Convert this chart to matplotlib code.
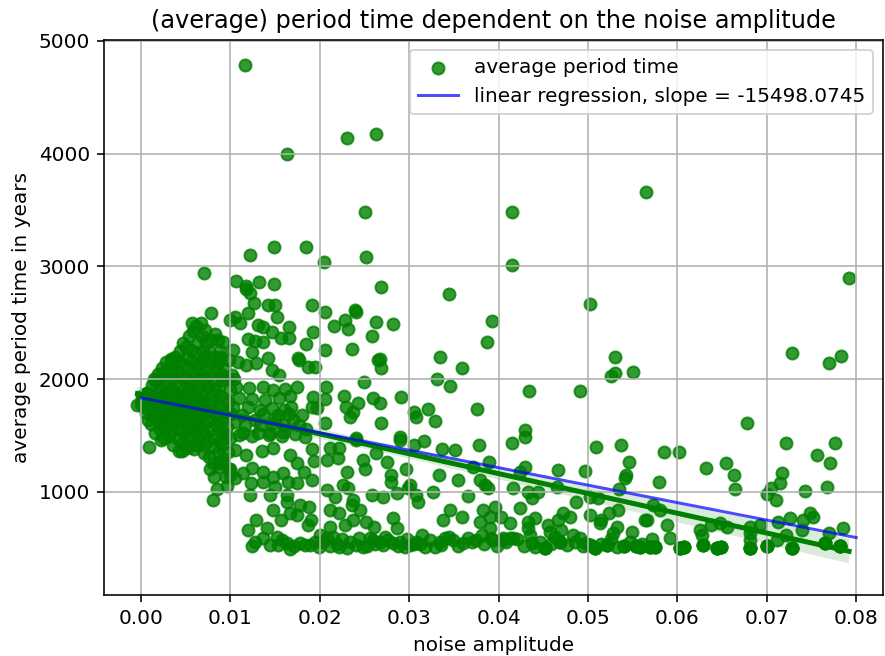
import numpy as np
import matplotlib
matplotlib.use("Agg")
import matplotlib.pyplot as plt
import seaborn as sns

# (noise amplitude, average period time in years), grouped by amplitude range
pts_low = [
    (0.0000, 1780), (0.0001, 1820), (0.0002, 1760), (0.0001, 1850), (0.0003, 1800), (-0.0004, 1772),
    (0.0006, 1700), (0.0005, 1750), (0.0007, 1880), (0.0007, 1875), (0.0008, 1640), (0.0006, 1810),
    (0.0009, 1402), (0.0011, 1600), (0.0012, 1690), (0.0010, 1760), (0.0013, 1840), (0.0012, 1950), (0.0014, 2000),
    (0.0016, 1520), (0.0017, 1650), (0.0015, 1730), (0.0018, 1870), (0.0016, 1980), (0.0019, 2050),
    (0.0022, 1461), (0.0021, 1560), (0.0020, 1620), (0.0023, 1710), (0.0022, 1800), (0.0021, 1900),
    (0.0024, 2030), (0.0024, 2053), (0.0023, 2100),
    (0.0026, 1480), (0.0027, 1580), (0.0025, 1680), (0.0028, 1770), (0.0026, 1850), (0.0027, 1950),
    (0.0029, 2060), (0.0028, 2150),
    (0.0031, 1500), (0.0030, 1600), (0.0032, 1700), (0.0031, 1790), (0.0033, 1880), (0.0030, 1980),
    (0.0032, 2080), (0.0034, 2180),
    (0.0036, 1420), (0.0035, 1540), (0.0037, 1640), (0.0036, 1730), (0.0038, 1820), (0.0035, 1910),
    (0.0037, 2010), (0.0036, 2120), (0.0035, 2170), (0.0038, 2200),
    (0.0043, 1367), (0.0041, 1470), (0.0040, 1570), (0.0042, 1670), (0.0044, 1760), (0.0041, 1860),
    (0.0043, 1950), (0.0040, 2060), (0.0042, 2160), (0.0044, 2250),
    (0.0046, 1360), (0.0047, 1450), (0.0045, 1550), (0.0048, 1650), (0.0046, 1740), (0.0047, 1840),
    (0.0049, 1930), (0.0046, 2030), (0.0048, 2130), (0.0050, 2289), (0.0047, 2320),
    (0.0052, 1390), (0.0051, 1500), (0.0053, 1600), (0.0050, 1700), (0.0052, 1800), (0.0054, 1900),
    (0.0051, 2000), (0.0053, 2100), (0.0052, 2200), (0.0054, 2380),
    (0.0057, 2496), (0.0059, 1379), (0.0056, 1470), (0.0058, 1560), (0.0055, 1660), (0.0057, 1760),
    (0.0059, 1860), (0.0056, 1960), (0.0058, 2060), (0.0057, 2160), (0.0056, 2260), (0.0058, 2430),
    (0.0062, 1420), (0.0061, 1530), (0.0063, 1630), (0.0060, 1730), (0.0062, 1830), (0.0064, 1930),
    (0.0061, 2030), (0.0063, 2130), (0.0062, 2230), (0.0064, 2330), (0.0061, 2470),
    (0.0066, 1450), (0.0068, 1550), (0.0065, 1650), (0.0067, 1750), (0.0069, 1850), (0.0066, 1950),
    (0.0068, 2050), (0.0067, 2150), (0.0069, 2250), (0.0067, 2496), (0.0068, 2380),
    (0.0070, 1343), (0.0071, 1420), (0.0072, 1500), (0.0070, 1600), (0.0073, 1700), (0.0071, 1800),
    (0.0072, 1900), (0.0070, 2000), (0.0073, 2100), (0.0071, 2200), (0.0072, 2437), (0.0070, 2940),
    (0.0073, 2320),
    (0.0076, 1313), (0.0077, 1200), (0.0075, 1450), (0.0078, 1550), (0.0076, 1650), (0.0077, 1750),
    (0.0079, 1850), (0.0075, 1950), (0.0078, 2050), (0.0077, 2150), (0.0076, 2250), (0.0078, 2350),
    (0.0078, 2585),
    (0.0081, 929), (0.0085, 1027), (0.0082, 1130), (0.0080, 1260), (0.0083, 1400), (0.0081, 1500),
    (0.0084, 1600), (0.0082, 1700), (0.0080, 1800), (0.0083, 1900), (0.0081, 2000), (0.0084, 2100),
    (0.0082, 2200), (0.0083, 2400),
    (0.0087, 1225), (0.0086, 1350), (0.0088, 1450), (0.0089, 1550), (0.0086, 1650), (0.0087, 1750),
    (0.0088, 1850), (0.0087, 1934), (0.0089, 2050), (0.0086, 2150), (0.0088, 2250), (0.0086, 2350),
    (0.0095, 1136), (0.0092, 1300), (0.0091, 1420), (0.0093, 1520), (0.0090, 1620), (0.0092, 1720),
    (0.0094, 1820), (0.0091, 1993), (0.0093, 2100), (0.0090, 2200), (0.0092, 2333), (0.0088, 2170),
    (0.0096, 1050), (0.0098, 1200), (0.0097, 1350), (0.0099, 1480), (0.0096, 1580), (0.0098, 1700),
    (0.0097, 1800), (0.0099, 1900), (0.0096, 2000), (0.0098, 2170), (0.0100, 2525), (0.0094, 1490),
    (0.0092, 1256), (0.0100, 1200), (0.0088, 1256),
]

# overlapping runs inside the dense cluster
pts_core = [
    (0.0010, 1800), (0.0015, 1780), (0.0018, 1820), (0.0020, 1760), (0.0025, 1800), (0.0028, 1720),
    (0.0030, 1850), (0.0033, 1760), (0.0035, 1800), (0.0038, 1700), (0.0040, 1790), (0.0042, 1830),
    (0.0045, 1720), (0.0048, 1780), (0.0050, 1850), (0.0053, 1740), (0.0055, 1800), (0.0058, 1700),
    (0.0060, 1780), (0.0063, 1720), (0.0065, 1800), (0.0068, 1700), (0.0004, 1790), (0.0008, 1760),
    (0.0013, 1700), (0.0023, 1650), (0.0034, 1600), (0.0044, 1620), (0.0054, 1560), (0.0064, 1580),
]

pts_mid = [
    (0.0116, 4787), (0.0163, 3998), (0.0230, 4137), (0.0263, 4175), (0.0250, 3483), (0.0122, 3102),
    (0.0149, 3176), (0.0185, 3176), (0.0205, 3037), (0.0252, 3087),
    (0.0106, 2874), (0.0118, 2827), (0.0132, 2860), (0.0149, 2842), (0.0268, 2821),
    (0.0191, 2659), (0.0206, 2594), (0.0239, 2614), (0.0240, 2600), (0.0228, 2525), (0.0216, 2475),
    (0.0231, 2445), (0.0263, 2510), (0.0282, 2490), (0.0258, 2386), (0.0236, 2268), (0.0206, 2259),
    (0.0192, 2422), (0.0185, 2310), (0.0176, 2186), (0.0177, 2170), (0.0195, 2112), (0.0187, 2106),
    (0.0265, 2172), (0.0267, 2180), (0.0268, 2097), (0.0249, 1978), (0.0291, 1839), (0.0227, 1851),
    (0.0207, 1934), (0.0260, 1831), (0.0267, 1787), (0.0243, 1792), (0.0229, 1756), (0.0237, 1712),
    (0.0234, 1668), (0.0206, 1822), (0.0192, 1845), (0.0191, 1756), (0.0197, 1740), (0.0206, 1609),
    (0.0268, 1609), (0.0305, 1712), (0.0290, 1490), (0.0241, 1476),
    (0.0117, 2800), (0.0122, 2760), (0.0126, 2673), (0.0142, 2659), (0.0150, 2659), (0.0120, 2585),
    (0.0105, 2550), (0.0111, 2502), (0.0152, 2555), (0.0131, 2481), (0.0137, 2466), (0.0147, 2422),
    (0.0165, 2466), (0.0157, 2363), (0.0165, 2363), (0.0120, 2354), (0.0128, 2340), (0.0136, 2330),
    (0.0103, 2259), (0.0124, 2244), (0.0142, 2186), (0.0109, 2156), (0.0118, 2126), (0.0129, 2141),
    (0.0146, 2082), (0.0154, 2038), (0.0102, 2040), (0.0104, 2000),
    (0.0106, 1930), (0.0121, 1920), (0.0136, 1930), (0.0148, 1900), (0.0161, 1910), (0.0174, 1930),
    (0.0110, 1830), (0.0124, 1820), (0.0139, 1815), (0.0154, 1830), (0.0167, 1850),
    (0.0103, 1750), (0.0120, 1750), (0.0133, 1730), (0.0146, 1740), (0.0160, 1730), (0.0168, 1750),
    (0.0101, 1690), (0.0113, 1680), (0.0136, 1690), (0.0153, 1680), (0.0166, 1690),
    (0.0116, 1595), (0.0133, 1590), (0.0146, 1600), (0.0160, 1595), (0.0177, 1595),
    (0.0110, 1505), (0.0124, 1500), (0.0143, 1505), (0.0158, 1500), (0.0172, 1515), (0.0184, 1490),
    (0.0105, 1620), (0.0127, 1640), (0.0150, 1650), (0.0185, 1560), (0.0170, 1640), (0.0180, 1680),
    (0.0114, 1525), (0.0131, 1525), (0.0144, 1520), (0.0159, 1530),
    (0.0105, 1372), (0.0118, 1328), (0.0135, 1359), (0.0148, 1390), (0.0167, 1328), (0.0174, 1256),
    (0.0191, 1381), (0.0193, 1278),
    (0.0100, 1150), (0.0105, 1125), (0.0114, 1168), (0.0124, 1212), (0.0137, 1180), (0.0148, 1136),
    (0.0159, 1168), (0.0182, 1180), (0.0191, 1106),
    (0.0123, 1080), (0.0136, 1091), (0.0150, 1047), (0.0164, 1091), (0.0174, 1080),
    (0.0122, 973), (0.0144, 973), (0.0163, 973),
    (0.0163, 914), (0.0178, 885), (0.0188, 870), (0.0167, 811),
    (0.0148, 840), (0.0157, 751), (0.0174, 796),
    (0.0120, 663), (0.0129, 751), (0.0141, 678), (0.0152, 604), (0.0163, 545), (0.0124, 521),
    (0.0144, 530), (0.0153, 530), (0.0167, 492), (0.0178, 550), (0.0183, 530), (0.0189, 530),
    (0.0187, 707), (0.0190, 751),
    (0.0211, 1388), (0.0221, 1388), (0.0241, 1461), (0.0248, 1284), (0.0263, 1343), (0.0275, 1269),
    (0.0290, 1461), (0.0305, 1417), (0.0208, 1284), (0.0220, 1300),
    (0.0226, 1062), (0.0232, 1033), (0.0208, 1018), (0.0217, 958), (0.0237, 929), (0.0258, 973),
    (0.0271, 958), (0.0280, 1091), (0.0286, 988), (0.0299, 1033),
    (0.0211, 840), (0.0222, 811), (0.0236, 885), (0.0245, 840), (0.0237, 751), (0.0252, 737),
    (0.0261, 692), (0.0228, 707), (0.0211, 692), (0.0282, 767), (0.0286, 678), (0.0273, 604),
    (0.0204, 560), (0.0211, 520), (0.0219, 540), (0.0230, 500), (0.0241, 530), (0.0248, 510),
    (0.0260, 570), (0.0271, 525), (0.0282, 550), (0.0295, 510), (0.0305, 540),
    (0.0250, 1200), (0.0230, 1180), (0.0280, 1150), (0.0296, 1200),
    (0.0200, 620), (0.0215, 600), (0.0225, 580), (0.0256, 590), (0.0267, 560), (0.0290, 560),
]

pts_high = [
    (0.0565, 3664), (0.0415, 3486), (0.0415, 3013), (0.0345, 2756), (0.0502, 2667), (0.0393, 2517),
    (0.0387, 2333), (0.0334, 2195), (0.0359, 2097), (0.0331, 2003), (0.0346, 1940), (0.0530, 2195),
    (0.0530, 2058), (0.0526, 2028), (0.0550, 2067), (0.0434, 1899), (0.0491, 1899),
    (0.0308, 1668), (0.0321, 1733), (0.0329, 1632), (0.0376, 1733), (0.0430, 1550),
    (0.0316, 1455), (0.0337, 1379), (0.0351, 1373), (0.0378, 1417), (0.0415, 1432), (0.0430, 1490),
    (0.0509, 1402), (0.0537, 1417), (0.0546, 1269), (0.0389, 1269), (0.0371, 1225), (0.0430, 1225),
    (0.0424, 1180), (0.0466, 1195), (0.0497, 1187), (0.0543, 1151), (0.0541, 1122), (0.0333, 1151),
    (0.0355, 1106), (0.0379, 1106), (0.0385, 1062), (0.0388, 1033), (0.0301, 1062), (0.0416, 1033),
    (0.0465, 1047), (0.0535, 1024), (0.0308, 973), (0.0327, 1003), (0.0310, 914), (0.0366, 964),
    (0.0433, 1003), (0.0437, 944), (0.0444, 1003), (0.0487, 914), (0.0502, 958), (0.0511, 944),
    (0.0346, 840), (0.0359, 781), (0.0383, 840), (0.0390, 781), (0.0396, 870), (0.0424, 855),
    (0.0338, 751), (0.0379, 737), (0.0403, 781), (0.0413, 722), (0.0433, 737), (0.0441, 767),
    (0.0455, 707), (0.0467, 751), (0.0472, 811), (0.0480, 781), (0.0502, 796), (0.0515, 751),
    (0.0513, 722), (0.0524, 811), (0.0534, 840), (0.0532, 692), (0.0528, 634), (0.0549, 648),
    (0.0564, 751), (0.0390, 678), (0.0392, 589), (0.0405, 589), (0.0416, 589), (0.0433, 678),
    (0.0435, 619), (0.0457, 648), (0.0470, 663), (0.0483, 619), (0.0491, 589),
    (0.0301, 530), (0.0314, 619), (0.0329, 515), (0.0340, 589), (0.0349, 574), (0.0360, 545),
    (0.0375, 574), (0.0381, 619), (0.0394, 574), (0.0441, 515), (0.0452, 500), (0.0469, 559),
    (0.0502, 530), (0.0508, 500), (0.0521, 530), (0.0540, 521), (0.0554, 521), (0.0569, 515),
    (0.0308, 559), (0.0323, 574), (0.0334, 559), (0.0370, 559), (0.0405, 574), (0.0413, 589),
    (0.0437, 545), (0.0497, 545),
    (0.0792, 2895), (0.0728, 2230), (0.0770, 2141), (0.0783, 2206), (0.0678, 1609), (0.0721, 1438),
    (0.0776, 1438), (0.0585, 1352), (0.0602, 1352), (0.0756, 1328), (0.0771, 1260), (0.0654, 1260),
    (0.0632, 1210), (0.0663, 1151), (0.0665, 1024), (0.0579, 1086), (0.0717, 1166), (0.0715, 1083),
    (0.0705, 1033), (0.0700, 982), (0.0710, 929), (0.0743, 1009), (0.0767, 1047), (0.0573, 885),
    (0.0580, 840), (0.0566, 751), (0.0588, 707), (0.0592, 589), (0.0558, 515), (0.0575, 509),
    (0.0603, 500), (0.0607, 515), (0.0625, 663), (0.0627, 619), (0.0629, 530), (0.0638, 707),
    (0.0648, 722), (0.0655, 692), (0.0644, 500), (0.0649, 509), (0.0681, 692), (0.0681, 634),
    (0.0681, 574), (0.0681, 500), (0.0692, 707), (0.0700, 521), (0.0711, 574), (0.0712, 737),
    (0.0722, 619), (0.0726, 767), (0.0728, 500), (0.0740, 751), (0.0739, 663), (0.0748, 817),
    (0.0752, 781), (0.0765, 545), (0.0770, 634), (0.0782, 521), (0.0785, 678),
]

# runs hidden in the bottom band around 500-600 years
pts_floor = [
    (0.0128, 560), (0.0136, 590), (0.0158, 570), (0.0171, 520), (0.0195, 560), (0.0199, 510),
    (0.0208, 590), (0.0222, 510), (0.0234, 560), (0.0244, 590), (0.0253, 520), (0.0262, 540),
    (0.0276, 570), (0.0287, 520), (0.0298, 580), (0.0312, 540), (0.0318, 510), (0.0336, 530),
    (0.0344, 600), (0.0355, 520), (0.0366, 590), (0.0384, 540), (0.0398, 520), (0.0408, 560),
    (0.0421, 580), (0.0428, 520), (0.0446, 560), (0.0459, 540), (0.0463, 600), (0.0477, 530),
    (0.0486, 560), (0.0494, 520), (0.0515, 540), (0.0526, 580), (0.0533, 510), (0.0547, 560),
    (0.0560, 540), (0.0572, 580),
]

# repeated runs that land on the same spots in the high-noise band
pts_tail = [
    (0.0452, 500), (0.0469, 559), (0.0502, 530), (0.0508, 500), (0.0521, 530), (0.0540, 521),
    (0.0554, 521), (0.0569, 515), (0.0558, 515), (0.0575, 509), (0.0603, 500), (0.0607, 515),
    (0.0629, 530), (0.0644, 500), (0.0649, 509), (0.0681, 500), (0.0700, 521), (0.0728, 500),
    (0.0765, 545), (0.0782, 521),
    (0.0452, 500), (0.0469, 559), (0.0502, 530), (0.0508, 500), (0.0521, 530), (0.0540, 521),
    (0.0554, 521), (0.0569, 515), (0.0558, 515), (0.0575, 509), (0.0603, 500), (0.0607, 515),
    (0.0629, 530), (0.0644, 500), (0.0649, 509), (0.0681, 500), (0.0700, 521), (0.0728, 500),
    (0.0765, 545), (0.0782, 521),
    (0.0603, 500), (0.0644, 500), (0.0681, 500), (0.0700, 521), (0.0728, 500), (0.0782, 521),
]

slope = -15498.0745
intercept = 1835.0
line_x = [0.0, 0.08]

pts = np.array(pts_low + pts_core + pts_mid + pts_high + pts_floor + pts_tail, dtype=float)
noise_amp, period = pts[:, 0], pts[:, 1]

DPI = 144
fig = plt.figure(figsize=(885 / DPI, 656 / DPI), dpi=DPI)
ax = fig.add_axes([104 / 885, 61 / 656, 779 / 885, 555 / 656])

sns.regplot(x=noise_amp, y=period, color="green", ax=ax, seed=0, line_kws={"lw": 2.5})
dots = ax.collections[0]
lx = np.array(line_x)
reg, = ax.plot(lx, intercept + slope * lx, color="blue", alpha=0.7)

ax.set_xlim(-0.00414, 0.0830)
ax.set_ylim(86, 5008)
ax.set_xticks(np.arange(0, 0.081, 0.01))
ax.grid(True)
ax.set_title("(average) period time dependent on the noise amplitude")
ax.set_xlabel("noise amplitude")
ax.set_ylabel("average period time in years")
ax.legend([dots, reg], ["average period time", f"linear regression, slope = {slope}"],
          loc="upper right")

fig.savefig("out.png", dpi=DPI)
